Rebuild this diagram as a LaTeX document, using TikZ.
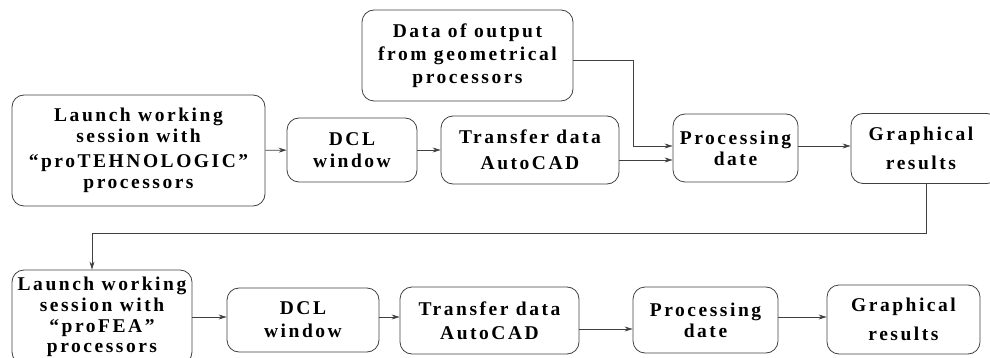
\documentclass[tikz,border=0pt]{standalone}
\usepackage{fontspec}
\setmainfont{Liberation Serif}[LetterSpace=13]
\usetikzlibrary{arrows.meta}

\begin{document}
\begin{tikzpicture}[x=1pt,y=-1pt]
        \tikzset{box/.style={draw=black!75,line width=0.8pt,rounded corners=12pt,
                inner sep=0pt,align=center,font=\fontsize{19.5}{21}\selectfont\bfseries},
            flow/.style={draw=black!75,line width=0.7pt,-{Stealth[length=8pt,width=5pt]}}}
        \useasboundingbox (0,0) rectangle (990,358);
        \clip (0,0) rectangle (990,358);
        % first row
        \node[box,minimum width=253pt,minimum height=111pt] (launchA) at (138.5,150.5)
            {Launch working\\session with\\[4pt]“proTEHNOLOGIC”\\processors};
        \node[box,minimum width=130pt,minimum height=64pt] (dclA) at (352,150) {DCL\\[1pt]window};
        \node[box,minimum width=178pt,minimum height=68pt] (transA) at (530,150) {Transfer data\\[5pt]AutoCAD};
        \node[box,minimum width=211pt,minimum height=91pt] (data) at (467.5,55.5)
            {Data of output\\[2pt]from geometrical\\[2pt]processors};
        \node[box,minimum width=125pt,minimum height=68pt] (procA) at (735.5,148) {Processing\\date};
        \node[box,minimum width=148pt,minimum height=70pt] (graphA) at (925,148.5) {\hspace*{-8pt}Graphical\\[8pt]\hspace*{-8pt}results};
        % second row
        \node[box,minimum width=180pt,minimum height=94pt] (launchB) at (102,317)
            {Launch working\\session with\\“proFEA”\\[-1pt]processors};
        \node[box,minimum width=152pt,minimum height=64pt] (dclB) at (303,320) {DCL\\[2pt]window};
        \node[box,minimum width=179pt,minimum height=67pt] (transB) at (489.5,320.5) {Transfer data\\[3pt]AutoCAD};
        \node[box,minimum width=145pt,minimum height=66pt] (procB) at (705.5,320) {Processing\\date};
        \node[box,minimum width=153pt,minimum height=69pt] (graphB) at (903.5,319.5) {Graphical\\[8pt]results};
        % connectors
        \draw[flow] (launchA) -- (dclA);
        \draw[flow] (dclA) -- (transA);
        \draw[flow] ([yshift=-4.5pt]data.east) -| ([xshift=-39pt,yshift=2pt]procA.west) -- ([yshift=2pt]procA.west);
        \draw[flow] ([yshift=-10pt]transA.east) -- ([yshift=-10pt]transA.east -| procA.west);
        \draw[flow] ([yshift=2pt]procA.east) -- ([yshift=2pt]procA.east -| graphA.west);
        \draw[flow] ([xshift=1pt]graphA.south) -- ++(0,49.5) -| ([xshift=-10pt]launchB.north);
        \draw[flow] ([yshift=3pt]dclB.west -| launchB.east) -- ([yshift=3pt]dclB.west);
        \draw[flow] ([yshift=3pt]dclB.east) -- ([yshift=3pt]dclB.east -| transB.west);
        \draw[flow] ([yshift=-8.5pt]transB.east) -- ([yshift=-8.5pt]transB.east -| procB.west);
        \draw[flow] ([yshift=3pt]procB.east) -- ([yshift=3pt]procB.east -| graphB.west);
\end{tikzpicture}
\end{document}
